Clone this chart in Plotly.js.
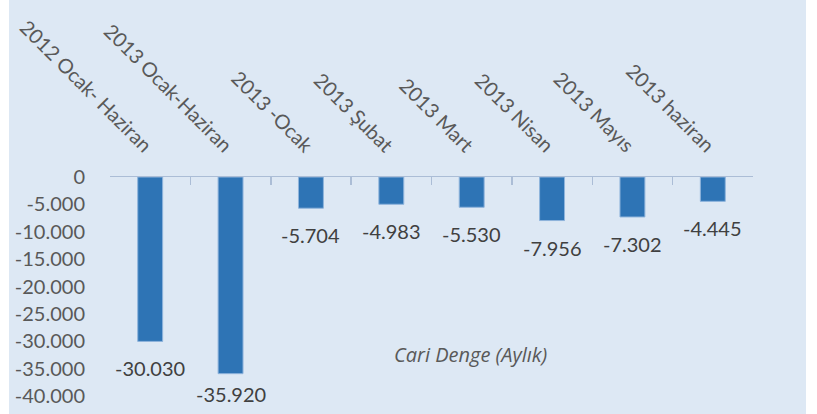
<!DOCTYPE html>
<html>
<head>
<meta charset="utf-8">
<script src="https://cdn.plot.ly/plotly-3.0.1.min.js"></script>
<style>
  html, body { margin: 0; padding: 0; background: #ffffff; }
  #chart { position: absolute; left: 9px; top: 0; width: 797px; height: 414px; }
</style>
</head>
<body>
<div id="chart"></div>
<script>
const categories = ['2012 Ocak- Haziran', '2013 Ocak-Haziran', '2013 -Ocak', '2013 Şubat',
                    '2013 Mart', '2013 Nisan', '2013 Mayıs', '2013 haziran'];
const values = [-30030, -35920, -5704, -4983, -5530, -7956, -7302, -4445];
const yTickVals = [0, -5000, -10000, -15000, -20000, -25000, -30000, -35000, -40000];
const chartTitle = 'Cari Denge (Aylık)';

function fmt(n) {
    let s = Math.abs(n).toString().replace(/\B(?=(\d{3})+(?!\d))/g, '.');
    return (n < 0 ? '-' : '') + s;
}

const top_m = 177, bottom_m = 17.5, height = 414;
const plotH = height - top_m - bottom_m;
const yMin = -40000;

// label sits ~27px under bar end, but kept inside the chart area
let annotations = values.map((v, i) => {
    let endPx = top_m + v / yMin * plotH;
    let center = Math.min(endPx + 27, 394);
    return {
        x: categories[i], y: v, xref: 'x', yref: 'y',
        text: fmt(v), showarrow: false, yanchor: 'middle',
        yshift: -(center - endPx),
        font: { family: 'Lato', size: 20, color: '#404040' }
    };
});

annotations.push({
    xref: 'paper', yref: 'paper', x: 0.56, y: 0.12,
    text: chartTitle, showarrow: false,
    font: { family: 'Open Sans', size: 20, color: '#595959', style: 'italic' }
});

let trace = {
    type: 'bar',
    x: categories,
    y: values,
    marker: { color: '#2e74b5', line: { color: '#8fb4dc', width: 1 } },
    hoverinfo: 'none',
    cliponaxis: false
};

let layout = {
    paper_bgcolor: '#dde8f4',
    plot_bgcolor: 'rgba(0,0,0,0)',
    margin: { l: 101, r: 53, t: top_m, b: bottom_m },
    width: 797,
    height: height,
    showlegend: false,
    bargap: 0.69,
    font: { family: 'Lato', color: '#595959' },
    xaxis: {
        type: 'category',
        side: 'top',
        tickangle: 45,
        ticks: 'inside',
        tickson: 'boundaries',
        ticklen: 8,
        tickcolor: '#abbdd6',
        tickwidth: 1.5,
        showline: true,
        linecolor: '#abbdd6',
        linewidth: 1.5,
        showgrid: false,
        zeroline: false,
        range: [-0.5, 7.5],
        ticklabelstandoff: 11,
        tickfont: { family: 'Lato', size: 20, color: '#595959' }
    },
    yaxis: {
        range: [-40000, 0],
        tickvals: yTickVals,
        ticktext: yTickVals.map(fmt),
        showgrid: false,
        zeroline: false,
        showline: false,
        ticks: 'outside',
        ticklen: 20,
        tickcolor: 'rgba(0,0,0,0)',
        tickfont: { family: 'Lato', size: 20, color: '#595959' }
    },
    annotations: annotations
};

Plotly.newPlot('chart', [trace], layout, { staticPlot: true, displayModeBar: false });
</script>
</body>
</html>
